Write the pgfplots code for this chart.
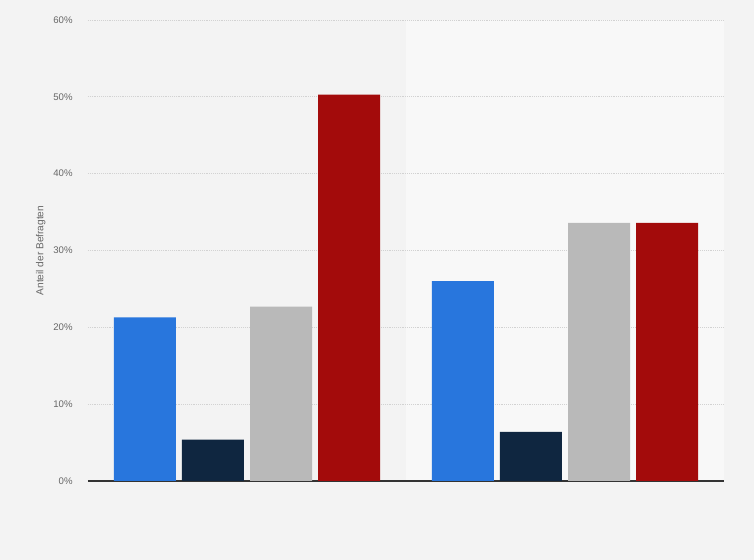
\documentclass[border=0pt]{standalone}
\usepackage{pgfplots}
\pgfplotsset{compat=1.18}
\usepackage{fontspec}
\setmainfont{Liberation Sans}
\definecolor{bgpage}{HTML}{F3F3F3}
\definecolor{panel}{HTML}{F8F8F8}
\definecolor{gridc}{HTML}{D2D2D2}
\definecolor{tickc}{HTML}{666666}
\definecolor{cblue}{HTML}{2876DD}
\definecolor{cnavy}{HTML}{0F2640}
\definecolor{cgray}{HTML}{B9B9B9}
\definecolor{cred}{HTML}{A30B0B}

\begin{document}
\begin{tikzpicture}
  \begin{axis}[
    set layers=standard,
    scale only axis,
    width=477pt, height=345.75pt,
    xmin=-0.5, xmax=1.5,
    ymin=0, ymax=60,
    ytick={0,10,...,60},
    yticklabel={\pgfmathprintnumber{\tick}\%},
    xtick=\empty,
    axis x line*=bottom,
    axis y line*=left,
    y axis line style={draw=none},
    x axis line style={draw=black!80, line width=0.9pt, -},
    ymajorgrids,
    grid style={gridc, densely dotted, line width=0.6pt},
    major tick length=0pt,
    tick label style={font=\fontsize{7.2}{8}\selectfont, text=tickc},
    yticklabel style={xshift=-8pt},
    /pgf/number format/assume math mode=true,
    ylabel={Anteil der Befragten},
    every axis y label/.style={at={(rel axis cs:0,0.5)}, rotate=90, anchor=center, yshift=35.5pt,
      font=\fontsize{7.6}{9}\selectfont, text=tickc},
    bar width=0.195,
    clip=false,
  ]
    \begin{pgfonlayer}{axis background}
      \fill[bgpage] ([xshift=-66pt,yshift=-59.25pt]rel axis cs:0,0) rectangle ([xshift=499.5pt,yshift=360.75pt]rel axis cs:0,0);
      \fill[panel] (axis cs:0.5,0) rectangle (axis cs:1.5,60);
    \end{pgfonlayer}
    \addplot[ybar, bar shift=-0.321, fill=cblue, draw=none] coordinates {(0,21.3) (1,26.0)};
    \addplot[ybar, bar shift=-0.107, fill=cnavy, draw=none] coordinates {(0,5.4) (1,6.4)};
    \addplot[ybar, bar shift=0.107, fill=cgray, draw=none] coordinates {(0,22.7) (1,33.6)};
    \addplot[ybar, bar shift=0.321, fill=cred, draw=none] coordinates {(0,50.3) (1,33.6)};
  \end{axis}
\end{tikzpicture}
\end{document}
